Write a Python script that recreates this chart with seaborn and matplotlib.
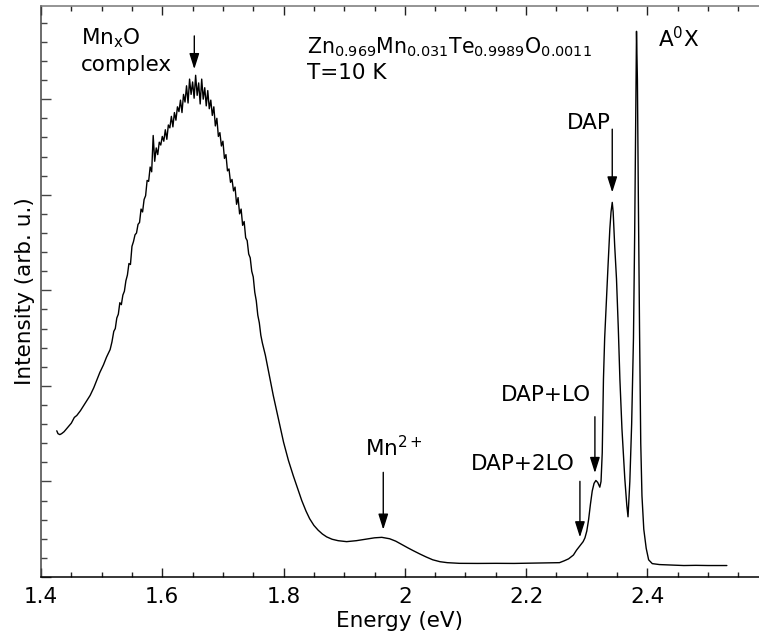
import numpy as np
import pandas as pd
import matplotlib
matplotlib.use("Agg")
import matplotlib.pyplot as plt
import seaborn as sns
from matplotlib.ticker import MultipleLocator, FixedLocator, FixedFormatter

# ---------------- data ----------------
energy_left = [1.426, 1.428, 1.431, 1.434, 1.438, 1.442, 1.446, 1.450, 1.455, 1.459,
               1.465, 1.470, 1.476, 1.481, 1.487, 1.492, 1.497, 1.503, 1.508, 1.514, 1.517]
intensity_left = [1.53, 1.50, 1.49, 1.50, 1.52, 1.55, 1.58, 1.61, 1.67, 1.69,
                  1.74, 1.79, 1.85, 1.90, 1.98, 2.06, 2.14, 2.22, 2.30, 2.38, 2.46]

energy_peak = [1.5200, 1.5225, 1.5250, 1.5275, 1.5300, 1.5325, 1.5350, 1.5375, 1.5400, 1.5425,
               1.5450, 1.5475, 1.5500, 1.5525, 1.5550, 1.5575, 1.5600, 1.5625, 1.5650, 1.5675,
               1.5700, 1.5725, 1.5750, 1.5775, 1.5800, 1.5825, 1.5850, 1.5875, 1.5900, 1.5925,
               1.5950, 1.5975, 1.6000, 1.6025, 1.6050, 1.6075, 1.6100, 1.6125, 1.6150, 1.6175,
               1.6200, 1.6225, 1.6250, 1.6275, 1.6300, 1.6325, 1.6350, 1.6375, 1.6400, 1.6425,
               1.6450, 1.6475, 1.6500, 1.6525, 1.6550, 1.6575, 1.6600, 1.6625, 1.6650, 1.6675,
               1.6700, 1.6725, 1.6750, 1.6775, 1.6800, 1.6825, 1.6850, 1.6875, 1.6900, 1.6925,
               1.6950, 1.6975, 1.7000, 1.7025, 1.7050, 1.7075, 1.7100, 1.7125, 1.7150, 1.7175,
               1.7200, 1.7225, 1.7250, 1.7275, 1.7300, 1.7325, 1.7350, 1.7375, 1.7400, 1.7425,
               1.7450, 1.7475, 1.7500, 1.7525, 1.7550, 1.7575, 1.7600, 1.7625, 1.7650]
intensity_peak = [2.57, 2.60, 2.71, 2.75, 2.87, 2.85, 2.95, 2.99, 3.10, 3.16,
                  3.28, 3.27, 3.46, 3.51, 3.58, 3.60, 3.69, 3.71, 3.85, 3.82,
                  3.95, 3.99, 4.15, 4.14, 4.29, 4.24, 4.62, 4.35, 4.49, 4.42,
                  4.55, 4.52, 4.61, 4.56, 4.68, 4.58, 4.73, 4.70, 4.82, 4.71,
                  4.86, 4.78, 4.92, 4.87, 4.99, 4.86, 5.05, 4.97, 5.14, 4.96,
                  5.21, 5.05, 5.18, 5.01, 5.25, 5.04, 5.17, 4.95, 5.21, 5.00,
                  5.12, 4.93, 5.09, 4.90, 4.99, 4.83, 4.92, 4.72, 4.80, 4.61,
                  4.65, 4.51, 4.56, 4.38, 4.42, 4.25, 4.27, 4.13, 4.16, 4.04,
                  4.08, 3.90, 3.97, 3.80, 3.85, 3.68, 3.72, 3.55, 3.52, 3.38,
                  3.34, 3.20, 3.14, 2.98, 2.89, 2.74, 2.66, 2.53, 2.45]

energy_right = [1.770, 1.775, 1.783, 1.790, 1.800, 1.808, 1.816, 1.823, 1.830, 1.837,
                1.843, 1.850, 1.857, 1.864, 1.871, 1.880, 1.890, 1.904, 1.920, 1.935,
                1.950, 1.962, 1.975, 1.985, 1.995, 2.005, 2.014, 2.025, 2.035, 2.046,
                2.058, 2.070, 2.090, 2.120, 2.150, 2.180, 2.210, 2.240, 2.255, 2.263,
                2.270, 2.278, 2.283, 2.289, 2.294, 2.297, 2.300, 2.303, 2.306, 2.309,
                2.312, 2.315, 2.318, 2.3215, 2.3235, 2.3255, 2.3275, 2.3295, 2.332, 2.335,
                2.338, 2.340, 2.342, 2.3435, 2.346, 2.349, 2.352, 2.3546, 2.358, 2.3627,
                2.366, 2.368, 2.371, 2.374, 2.377, 2.379, 2.381, 2.382, 2.3835, 2.385,
                2.387, 2.389, 2.391, 2.394, 2.398, 2.402, 2.408, 2.420, 2.440, 2.460,
                2.480, 2.500, 2.531]
intensity_right = [2.32, 2.16, 1.90, 1.70, 1.41, 1.22, 1.06, 0.93, 0.80, 0.69,
                   0.61, 0.54, 0.49, 0.45, 0.42, 0.395, 0.38, 0.37, 0.38, 0.395,
                   0.41, 0.415, 0.40, 0.375, 0.34, 0.305, 0.275, 0.24, 0.21, 0.18,
                   0.16, 0.15, 0.143, 0.142, 0.143, 0.142, 0.145, 0.148, 0.15, 0.17,
                   0.19, 0.23, 0.28, 0.33, 0.37, 0.41, 0.48, 0.60, 0.76, 0.90,
                   0.98, 1.01, 0.99, 0.94, 1.00, 1.30, 2.07, 2.50, 2.85, 3.25,
                   3.64, 3.82, 3.92, 3.82, 3.47, 3.12, 2.60, 2.07, 1.55, 1.03,
                   0.75, 0.63, 1.00, 1.60, 2.50, 3.60, 5.00, 5.71, 5.20, 4.00,
                   2.60, 1.40, 0.85, 0.50, 0.30, 0.18, 0.14, 0.13, 0.125, 0.12,
                   0.122, 0.12, 0.12]

x_ticks = [1.4, 1.6, 1.8, 2.0, 2.2, 2.4]
x_tick_labels = ["1.4", "1.6", "1.8", "2", "2.2", "2.4"]

# annotated features
peak_labels = ["Mn$^{2+}$", "DAP+2LO", "DAP+LO", "DAP"]
label_x = [1.934, 2.109, 2.158, 2.2668]
label_y = [1.269, 1.122, 1.844, 4.686]
arrow_x = [1.9644, 2.2887, 2.3134, 2.342]
arrow_top = [1.095, 1.001, 1.677, 4.686]
arrow_tip = [0.495, 0.415, 1.088, 4.024]

# ---------------- plot ----------------
df = pd.DataFrame({
    "Energy": energy_left + energy_peak + energy_right,
    "Intensity": intensity_left + intensity_peak + intensity_right,
})

sns.set_style("ticks")
plt.rcParams["font.family"] = ["DejaVu Sans"]
plt.rcParams["mathtext.fontset"] = "dejavusans"
plt.rcParams["mathtext.default"] = "regular"
plt.rcParams["text.color"] = "black"
plt.rcParams["axes.labelcolor"] = "black"
plt.rcParams["xtick.color"] = "black"
plt.rcParams["ytick.color"] = "black"

fig = plt.figure(figsize=(7.59, 6.37), dpi=100)
ax = fig.add_axes([41 / 759, 60 / 637, 1 - 41 / 759, 571 / 637])

sns.lineplot(data=df, x="Energy", y="Intensity", ax=ax, color="black",
             linewidth=1.0, sort=False, estimator=None)

ax.set_xlim(1.4, 2.584)
ax.set_ylim(0, 5.975)

ax.xaxis.set_major_locator(FixedLocator(x_ticks))
ax.xaxis.set_major_formatter(FixedFormatter(x_tick_labels))
ax.xaxis.set_minor_locator(MultipleLocator(0.05))
ax.yaxis.set_major_locator(MultipleLocator(1.0))
ax.yaxis.set_minor_locator(MultipleLocator(0.2))
ax.set_yticklabels([])

ax.tick_params(axis="x", which="both", direction="in", top=True, bottom=True,
               labelsize=15.5, pad=7.5, color="#222222", labelcolor="black")
ax.tick_params(axis="x", which="major", length=6.5, width=1)
ax.tick_params(axis="x", which="minor", length=3.5, width=1)
ax.tick_params(axis="y", which="both", direction="in", left=True, right=False,
               color="#444444")
ax.tick_params(axis="y", which="major", length=7, width=1)
ax.tick_params(axis="y", which="minor", length=4, width=1)

ax.spines["right"].set_visible(False)
ax.spines["top"].set_color("#777777")
ax.spines["left"].set_color("#444444")
ax.spines["bottom"].set_color("black")
for s in ["top", "left", "bottom"]:
    ax.spines[s].set_linewidth(1.1)

ax.set_xlabel("Energy (eV)", fontsize=15.5, labelpad=2.5, color="black")
ax.set_ylabel("Intensity (arb. u.)", fontsize=15.5, labelpad=1, color="black")

fs = 15.5
arrow_style = dict(arrowstyle="-|>,head_length=0.95,head_width=0.3", color="black",
                   lw=1.0, shrinkA=0, shrinkB=0, mutation_scale=10)

# MnxO complex
ax.text(1.4655, 5.575, "Mn$_{\\mathrm{x}}$O", fontsize=fs, ha="left", va="baseline")
ax.text(1.4655, 5.295, "complex", fontsize=fs, ha="left", va="baseline")
ax.annotate("", xy=(1.6528, 5.314), xytext=(1.6528, 5.662), arrowprops=arrow_style)

# sample / temperature
ax.text(1.8391, 5.478, "Zn$_{0.969}$Mn$_{0.031}$Te$_{0.9989}$O$_{0.0011}$",
        fontsize=14.8, ha="left", va="baseline")
ax.text(1.8391, 5.209, "T=10 K", fontsize=fs, ha="left", va="baseline")

# A0X
ax.text(2.4178, 5.54, "A$^{0}$X", fontsize=fs, ha="left", va="baseline")

for lab, tx, ty, axx, at, ap in zip(peak_labels, label_x, label_y, arrow_x, arrow_top, arrow_tip):
    ax.text(tx, ty, lab, fontsize=fs, ha="left", va="baseline")
    ax.annotate("", xy=(axx, ap), xytext=(axx, at), arrowprops=arrow_style)

fig.savefig("out.png", dpi=100)
